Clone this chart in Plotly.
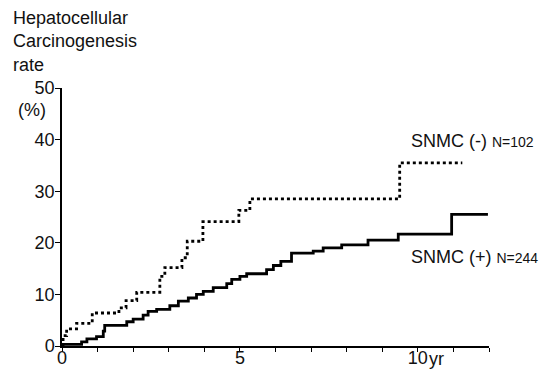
import plotly.graph_objects as go

# SNMC (-) dotted curve, step points (years, %)
neg_x = [0, 0.03, 0.13, 0.41, 0.85, 1.60, 1.80, 2.10, 2.75, 2.89, 3.37, 3.52, 3.96, 4.97, 5.28, 9.49, 11.25]
neg_y = [0, 2.0, 3.3, 4.4, 6.4, 7.4, 8.8, 10.4, 13.5, 15.2, 17.1, 20.3, 24.1, 26.3, 28.5, 35.5, 35.5]

# SNMC (+) solid curve
pos_x = [0, 0.55, 0.70, 0.97, 1.16, 1.20, 1.82, 2.00, 2.28, 2.42, 2.66, 3.03, 3.27, 3.55, 3.78,
         3.97, 4.25, 4.63, 4.77, 5.00, 5.19, 5.75, 5.94, 6.15, 6.45, 7.06, 7.34, 7.86, 8.60,
         9.45, 10.95, 11.97]
pos_y = [0.3, 0.8, 1.4, 1.8, 2.9, 4.0, 4.7, 5.2, 6.0, 6.7, 7.1, 7.8, 8.7, 9.3, 10.0,
         10.6, 11.3, 12.1, 12.9, 13.5, 14.0, 14.8, 15.6, 16.4, 18.0, 18.4, 19.0, 19.6, 20.5,
         21.7, 25.5, 25.5]

x_tickvals = list(range(13))
x_ticktext = ["0", "", "", "", "", "5", "", "", "", "", "10", "", ""]
y_tickvals = [0, 10, 20, 30, 40, 50]
y_ticktext = ["0", "10", "20", "30", "40", "50"]

FONT = "Liberation Sans, Arial, sans-serif"
W, H = 550, 369
ML, MR, MT, MB = 62, 61, 88, 23
PW, PH = W - ML - MR, H - MT - MB

fig = go.Figure()
fig.add_trace(go.Scatter(x=neg_x, y=neg_y, mode="lines",
                         line=dict(shape="hv", color="black", width=2.8, dash="3px,3px"),
                         showlegend=False, hoverinfo="skip"))
fig.add_trace(go.Scatter(x=pos_x, y=pos_y, mode="lines",
                         line=dict(shape="hv", color="black", width=2.8),
                         showlegend=False, hoverinfo="skip"))

fig.update_layout(
    width=W, height=H,
    margin=dict(l=ML, r=MR, t=MT, b=MB),
    paper_bgcolor="white", plot_bgcolor="white",
    font=dict(family=FONT, size=18, color="#111"),
    xaxis=dict(range=[0, 12], showgrid=False, zeroline=False, showline=True,
               linecolor="black", linewidth=1.5, ticks="outside", ticklen=4,
               tickwidth=1.2, tickcolor="black", tickvals=x_tickvals, ticktext=x_ticktext,
               tickfont=dict(size=18), automargin=False, ticklabelstandoff=-9),
    yaxis=dict(range=[0, 50], showgrid=False, zeroline=False, showline=True,
               linecolor="black", linewidth=1.5, ticks="outside", ticklen=5,
               tickwidth=1.2, tickcolor="black", tickvals=y_tickvals, ticktext=y_ticktext,
               tickfont=dict(size=18), automargin=False, ticklabelstandoff=-3),
)

ann = [
    dict(text="Hepatocellular<br>Carcinogenesis<br>rate", x=11, y=6, xanchor="left", yanchor="top",
         align="left", font=dict(size=18)),
    dict(text="(%)", x=32, y=110, xanchor="center", yanchor="middle", font=dict(size=18)),
    dict(text="yr", x=427, y=359, xanchor="left", yanchor="middle", font=dict(size=18)),
    dict(text="SNMC (-) <span style='font-size:14px'>N=102</span>", x=409, y=141,
         xanchor="left", yanchor="middle", font=dict(size=18)),
    dict(text="SNMC (+) <span style='font-size:14px'>N=244</span>", x=409, y=257,
         xanchor="left", yanchor="middle", font=dict(size=18)),
]
for a in ann:
    fig.add_annotation(xref="paper", yref="paper", showarrow=False,
                       x=(a["x"] - ML) / PW, y=(H - MB - a["y"]) / PH,
                       **{k: v for k, v in a.items() if k not in ("x", "y")})

fig.write_html("out.html")
